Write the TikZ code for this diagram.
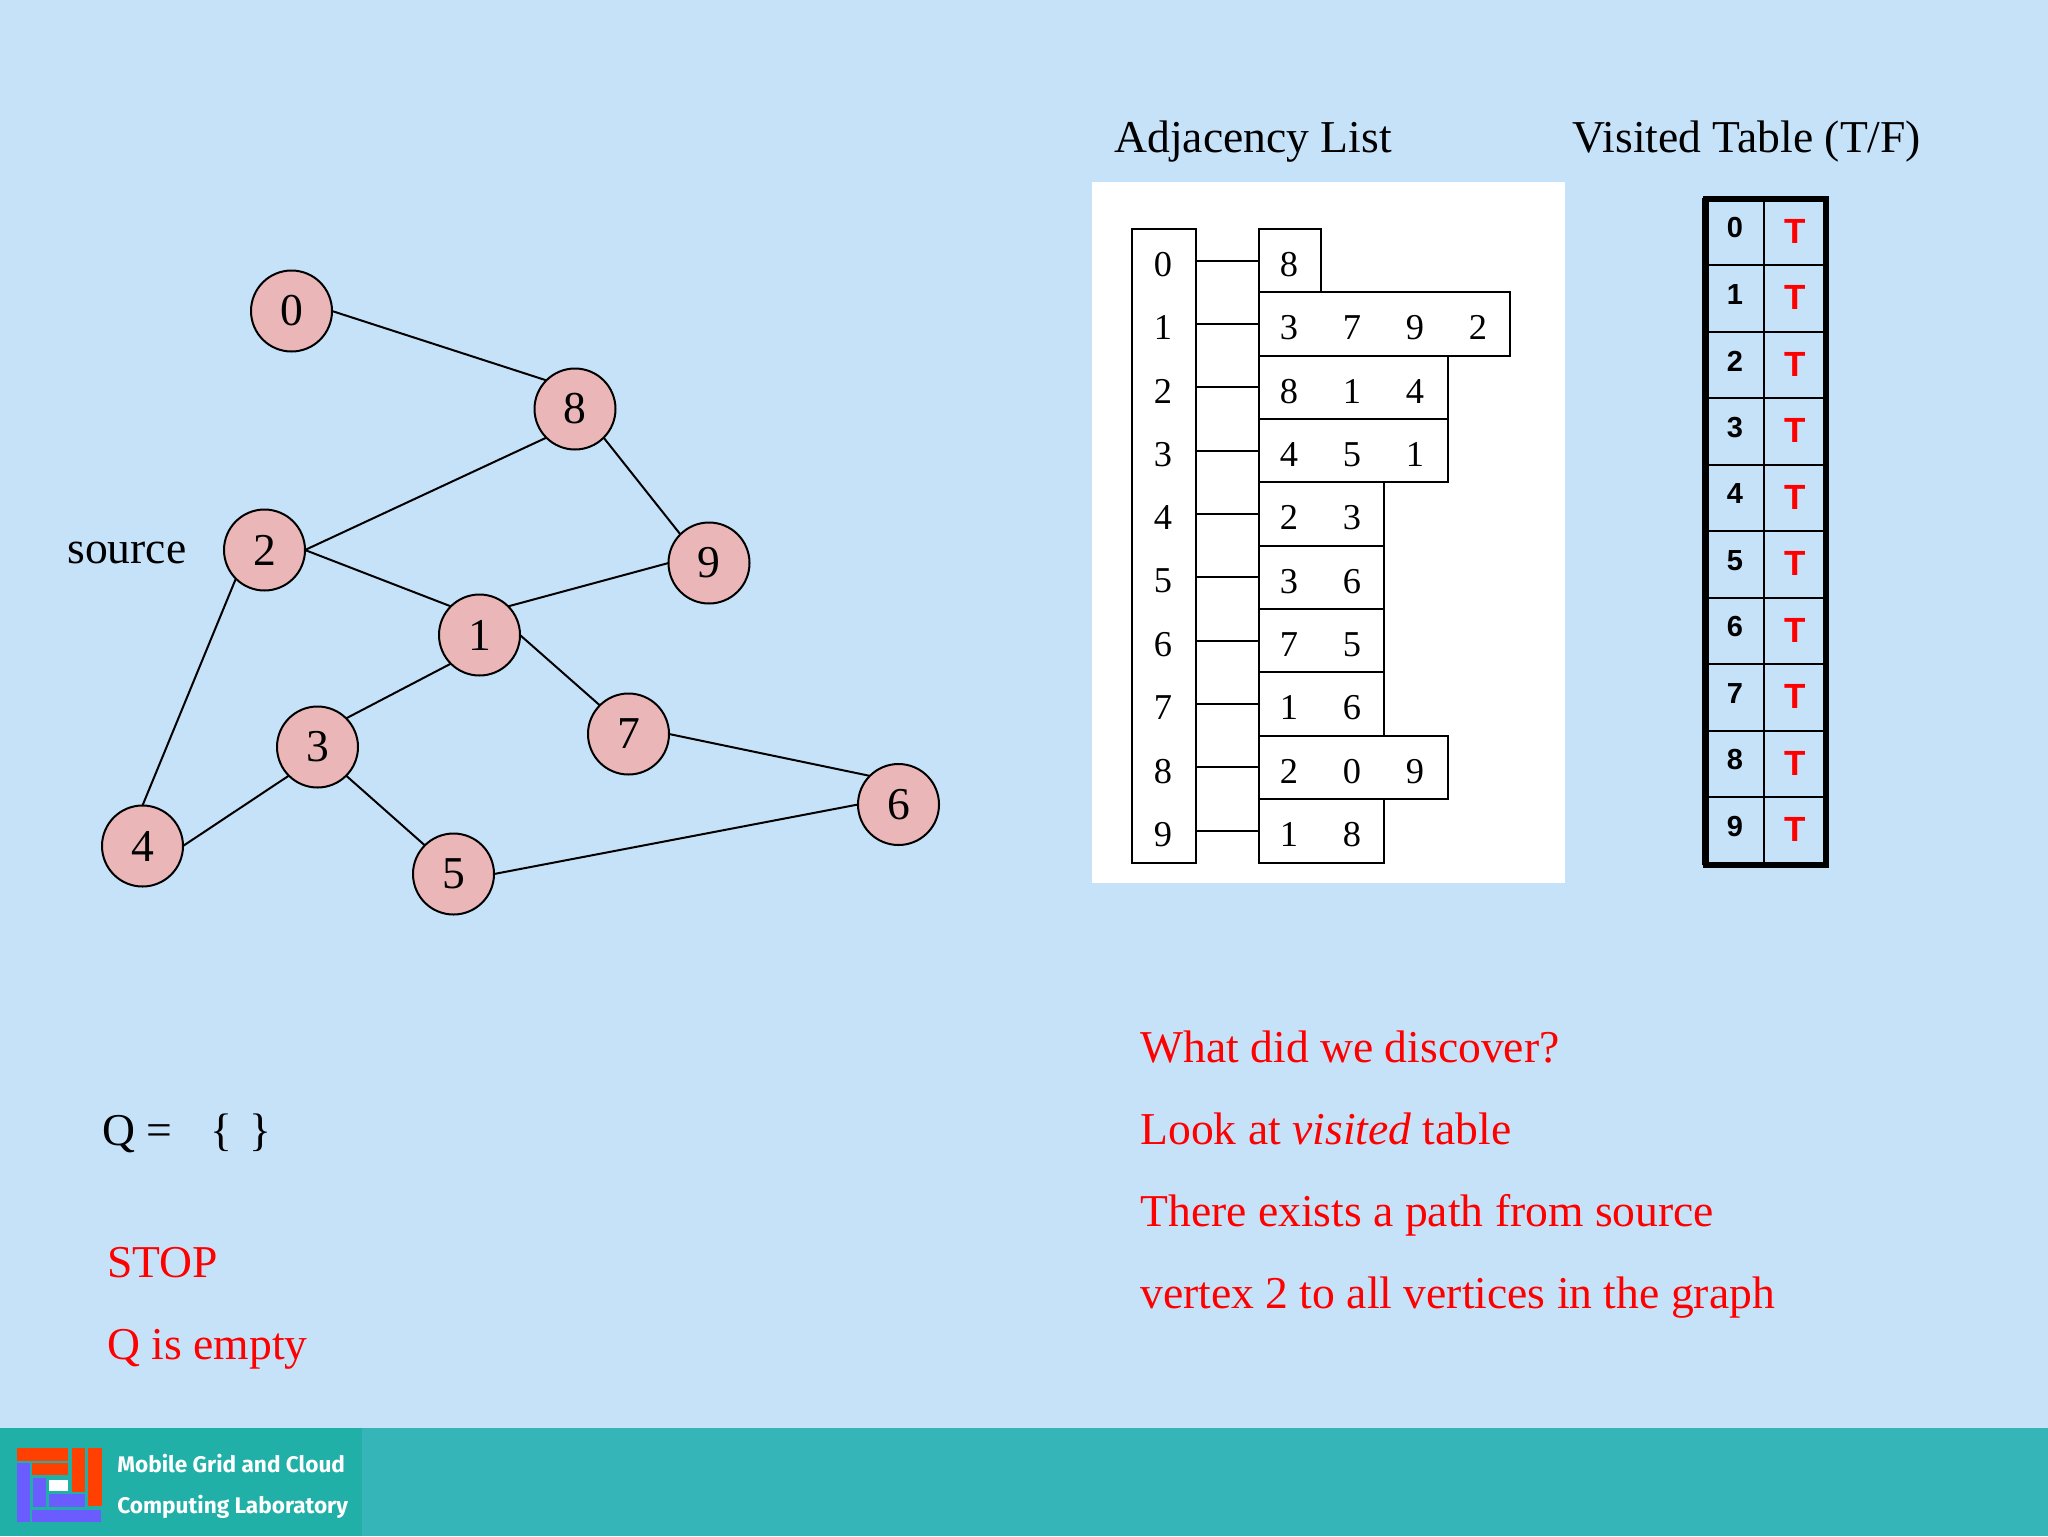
\documentclass[tikz,border=0pt]{standalone}
\usepackage{fontspec}
\setmainfont{Liberation Serif}
\newfontfamily\tablefont{Liberation Sans}
\newfontfamily\logofont{Fira Sans}
\definecolor{slidebg}{HTML}{C6E2F9}
\definecolor{footbar}{HTML}{35B5B8}
\definecolor{footlogo}{HTML}{20B0A8}
\definecolor{vertexfill}{HTML}{EBB6B8}
\definecolor{logored}{HTML}{FF4000}
\definecolor{logoblue}{HTML}{6A5CFF}
\tikzset{
	vertex/.style={circle,draw,line width=1pt,fill=vertexfill,minimum size=40.5pt,inner sep=0pt,outer sep=0pt,font=\fontsize{22.8}{27}\selectfont},
	label/.style={anchor=base west,inner sep=0pt,font=\fontsize{22.8}{27}\selectfont},
	redlabel/.style={label,text=red},
	celldigit/.style={inner sep=0pt,font=\fontsize{18.2}{22}\selectfont},
	listbox/.style={draw,line width=1pt,anchor=north west,minimum height=31.67pt,inner sep=0pt,outer sep=0pt},
	visitcell/.style={draw=black,line width=1.1pt,minimum width=30.5pt,minimum height=33.25pt,inner sep=0pt},
	logotext/.style={anchor=west,inner sep=0pt,text=white,font=\logofont\bfseries\fontsize{11.3}{14}\selectfont}
}
\begin{document}
\begin{tikzpicture}[x=0.5pt,y=-0.5pt]
	%background and footer
	\fill[slidebg] (0,0) rectangle (2048,1536);
	\useasboundingbox (0,0) rectangle (2048,1536);
	\fill[footbar] (0,1428) rectangle (2048,1536);
	\fill[footlogo] (0,1428) rectangle (362,1536);
	
	%logo
	\fill[logored] (17,1448) rectangle (68,1461);
	\fill[logored] (32,1463) rectangle (68,1475);
	\fill[logored] (72,1448) rectangle (85,1492);
	\fill[logored] (88,1448) rectangle (102,1506);
	\fill[logoblue] (17,1463) rectangle (30,1522);
	\fill[logoblue] (32,1510) rectangle (101,1522);
	\fill[logoblue] (33,1478) rectangle (46,1507);
	\fill[logoblue] (49,1494) rectangle (85,1507);
	\fill[white] (49,1480) rectangle (68,1491);
	\node[logotext] (logoa) at (117,1464){Mobile Grid and Cloud};
	\node[logotext] (logob) at (117,1507){Computing Laboratory};
	
	%graph
	\foreach \n/\x/\y in {0/291.5/311, 8/575/409, 2/264.5/550, 9/709/563, 1/479.5/635, 7/628.5/734, 3/317.5/747, 6/898.5/804.5, 4/142.5/846, 5/453.5/874}{
		\node[vertex] (v\n) at (\x,\y){\n};
	}
	\foreach \a/\b in {v0.east/v8.north west, v8.south west/v2.east, v8.south east/v9.north west, v2.east/v1.north west, v1.north east/v9.west, v1.east/v7.north west, v1.south west/v3.north east, v2.south west/v4.north, v3.south west/v4.east, v3.south east/v5.north west, v7.east/v6.north west, v5.east/v6.west}{
		\draw[line width=1pt] (\a)--(\b);
	}
	\node[label] (source) at (67,563){source};
	
	%adjacency list
	\node[label] (adjtitle) at (1114,152){Adjacency List};
	\fill[white] (1092,182) rectangle (1565,883);
	\draw[line width=1pt] (1132,229) rectangle (1196,863);
	\foreach \i/\w in {0/62, 1/251, 2/189, 3/189, 4/125, 5/125, 6/125, 7/125, 8/189, 9/125}{
		\pgfmathsetmacro{\rowy}{229+63.35*\i}
		\node[listbox,minimum width=\w*0.5pt] (row\i) at (1259,\rowy){};
		\node[minimum height=31.67pt,minimum width=32pt,inner sep=0pt,outer sep=0pt] (idx\i) at (1164,\rowy+31.67){};
		\node[celldigit] (idxnum\i) at (1163,\rowy+35.5){\i};
		\draw[line width=1pt] (idx\i.east)--(row\i.west);
	}
	\foreach \i/\vals in {0/{8}, 1/{3,7,9,2}, 2/{8,1,4}, 3/{4,5,1}, 4/{2,3}, 5/{3,6}, 6/{7,5}, 7/{1,6}, 8/{2,0,9}, 9/{1,8}}{
		\foreach \v [count=\k from 0] in \vals {
			\node[celldigit] (cell\i\k) at (1289+63*\k,264.5+63.35*\i){\v};
		}
	}
	
	%visited table
	\node[label] (vistitle) at (1572,152){Visited Table (T/F)};
	\foreach \i in {0,...,9}{
		\pgfmathsetmacro{\rowy}{232+66.5*\i}
		\node[visitcell] (num\i) at (1733.5,\rowy){};
		\node[visitcell] (val\i) at (1794.5,\rowy){};
		\node[inner sep=0pt,font=\tablefont\bfseries\fontsize{14.5}{16}\selectfont] (numtxt\i) at (1735,\rowy-4){\i};
		\node[inner sep=0pt,text=red,font=\tablefont\bfseries\fontsize{17.5}{20}\selectfont] (valtxt\i) at (1795,\rowy-1){T};
	}
	\draw[line width=3pt] (1706,199) rectangle (1826,864.5);
	
	%queue and remarks
	\node[label] (queue) at (102,1145){Q =\hspace{19pt}\{\hspace{8.5pt}\}};
	\node[redlabel] (stop) at (107,1277){STOP};
	\node[redlabel] (empty) at (107,1359.5){Q is empty};
	\node[redlabel] (remarka) at (1140,1062){What did we discover?};
	\node[redlabel] (remarkb) at (1140,1144){Look at \textit{visited} table};
	\node[redlabel] (remarkc) at (1140,1226){There exists a path from source};
	\node[redlabel] (remarkd) at (1140,1308){vertex 2 to all vertices in the graph};
\end{tikzpicture}
\end{document}
